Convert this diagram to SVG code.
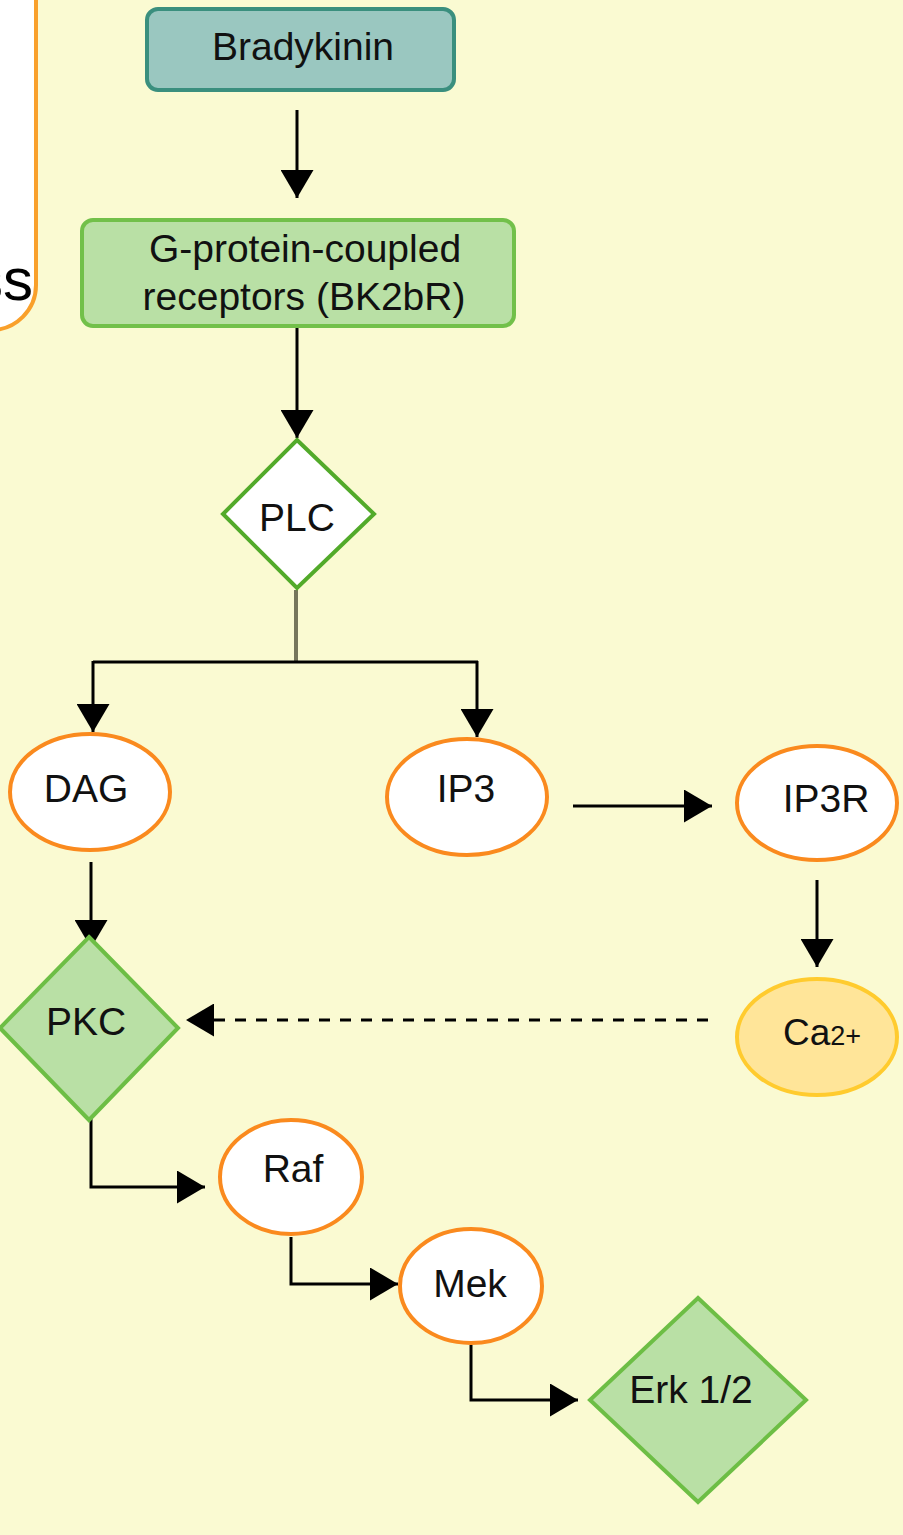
<svg xmlns="http://www.w3.org/2000/svg" width="903" height="1535" viewBox="0 0 903 1535">
  <defs>
    <marker id="head" markerUnits="userSpaceOnUse" markerWidth="29" markerHeight="33" refX="28" refY="16.5" orient="auto">
      <path d="M0,0 L28,16.5 L0,33 Z" fill="#000"/>
    </marker>
    <style>
      .lbl { font-family: "Liberation Sans", Arial, sans-serif; font-size: 39px; fill: #111; text-anchor: middle; }
      .edge { fill: none; stroke: #000; stroke-width: 3; }
      .arrow { marker-end: url(#head); }
      .oval { fill: #fff; stroke: #FA8A1E; stroke-width: 4; }
      .kinase { fill: #B9E0A5; stroke: #6DBE45; stroke-width: 4; }
    </style>
  </defs>

  <rect x="0" y="0" width="903" height="1535" fill="#FAFAD2"/>

  <!-- neighbouring panel, cut by the edge -->
  <g id="side-panel">
    <rect x="-200" y="-100" width="236" height="430" rx="45" ry="45" fill="#fff" stroke="#F9A02B" stroke-width="4"/>
    <text x="33" y="300" font-family="Liberation Sans, Arial, sans-serif" font-size="60" fill="#000" text-anchor="end">ss</text>
  </g>

  <!-- connectors -->
  <g id="connectors">
    <line class="edge arrow" x1="297" y1="110" x2="297" y2="198"/>
    <line class="edge arrow" x1="297" y1="327" x2="297" y2="438"/>
    <line x1="296" y1="590" x2="296" y2="662" stroke="#76765C" stroke-width="4"/>
    <polyline class="edge" points="93,662 478,662"/>
    <line class="edge arrow" x1="93" y1="661" x2="93" y2="732"/>
    <line class="edge arrow" x1="477" y1="661" x2="477" y2="737" stroke="#4A4A3A"/>
    <line class="edge arrow" x1="573" y1="806" x2="712" y2="806"/>
    <line class="edge arrow" x1="91" y1="862" x2="91" y2="948"/>
    <line class="edge arrow" x1="817" y1="880" x2="817" y2="967"/>
    <line class="edge arrow" x1="708" y1="1020" x2="186" y2="1020" stroke-dasharray="11 10"/>
    <polyline class="edge arrow" points="91,1117 91,1187 205,1187"/>
    <polyline class="edge arrow" points="291,1237 291,1284 398,1284"/>
    <polyline class="edge arrow" points="471,1345 471,1400 578,1400"/>
  </g>

  <g id="bradykinin">
    <rect x="147" y="9" width="307" height="81" rx="11" ry="11" fill="#9AC7C0" stroke="#3A8F7E" stroke-width="4"/>
    <text class="lbl" x="303" y="60" font-size="40">Bradykinin</text>
  </g>

  <g id="gpcr">
    <rect x="82" y="220" width="432" height="106" rx="11" ry="11" fill="#B9E0A5" stroke="#72C04A" stroke-width="4"/>
    <text class="lbl" x="305" y="262" font-size="38">G-protein-coupled</text>
    <text class="lbl" x="304" y="310" font-size="38">receptors (BK2bR)</text>
  </g>

  <g id="plc">
    <polygon points="297,440 374,514 297,588 223,514" fill="#fff" stroke="#52AA2A" stroke-width="4"/>
    <text class="lbl" x="297" y="531" font-size="40">PLC</text>
  </g>

  <g id="dag">
    <ellipse class="oval" cx="90" cy="792" rx="80" ry="58"/>
    <text class="lbl" x="86" y="802">DAG</text>
  </g>

  <g id="ip3">
    <ellipse class="oval" cx="467" cy="797" rx="80" ry="58"/>
    <text class="lbl" x="466" y="802">IP3</text>
  </g>

  <g id="ip3r">
    <ellipse class="oval" cx="817" cy="803" rx="80" ry="57"/>
    <text class="lbl" x="826" y="812">IP3R</text>
  </g>

  <g id="calcium">
    <ellipse cx="817" cy="1037" rx="80" ry="58" fill="#FFE599" stroke="#FFCB2E" stroke-width="4"/>
    <text x="783" y="1045" font-family="Liberation Sans, Arial, sans-serif" font-size="37" fill="#111">Ca<tspan font-size="27">2+</tspan></text>
  </g>

  <g id="pkc">
    <polygon class="kinase" points="89,937 178,1028 89,1120 0,1028"/>
    <text class="lbl" x="86" y="1035">PKC</text>
  </g>

  <g id="raf">
    <ellipse class="oval" cx="291" cy="1177" rx="71" ry="57"/>
    <text class="lbl" x="293" y="1182">Raf</text>
  </g>

  <g id="mek">
    <ellipse class="oval" cx="471" cy="1286" rx="71" ry="57"/>
    <text class="lbl" x="470" y="1297">Mek</text>
  </g>

  <g id="erk">
    <polygon class="kinase" points="698,1298 806,1400 698,1502 590,1400"/>
    <text class="lbl" x="691" y="1403">Erk 1/2</text>
  </g>
</svg>
